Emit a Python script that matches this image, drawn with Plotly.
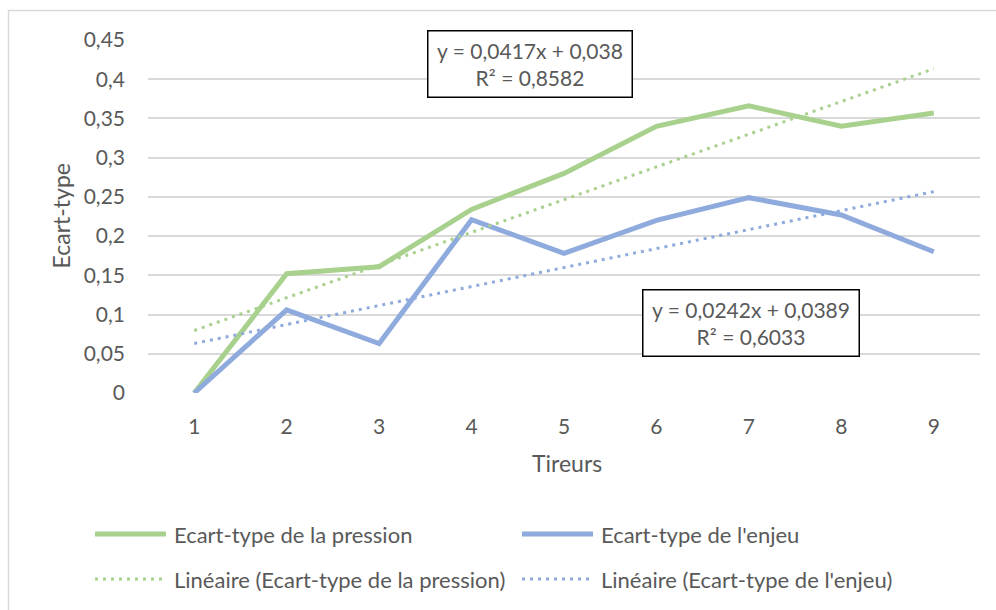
import plotly.graph_objects as go

# ---- data ----
tireurs = [1, 2, 3, 4, 5, 6, 7, 8, 9]
ecart_pression = [0.0, 0.152, 0.161, 0.234, 0.280, 0.340, 0.366, 0.340, 0.357]
ecart_enjeu = [0.0, 0.106, 0.063, 0.221, 0.178, 0.220, 0.249, 0.227, 0.180]
trend_pression = {"slope": 0.0417, "intercept": 0.038, "r2": "0,8582"}
trend_enjeu = {"slope": 0.0242, "intercept": 0.0389, "r2": "0,6033"}
y_tick_vals = [0, 0.05, 0.1, 0.15, 0.2, 0.25, 0.3, 0.35, 0.4, 0.45]
y_tick_labels = ["0", "0,05", "0,1", "0,15", "0,2", "0,25", "0,3", "0,35", "0,4", "0,45"]
series_names = ["Ecart-type de la pression", "Ecart-type de l'enjeu",
                "Linéaire (Ecart-type de la pression)", "Linéaire (Ecart-type de l'enjeu)"]

GREEN = "#A9D18E"
BLUE = "#8FAADC"
TEXT = "#595959"
GRID = "#D9D9D9"
FONT = "Lato"

W, H = 996, 610
L, R, T, B = 148, 16, 40, 217
PW, PH = W - L - R, H - T - B


def px(x):
    return (x - L) / PW


def py(y):
    return (H - B - y) / PH


def trend(c):
    return [c["slope"] * x + c["intercept"] for x in tireurs]


fig = go.Figure()
fig.add_trace(go.Scatter(x=tireurs, y=ecart_pression, mode="lines",
                         line=dict(color=GREEN, width=5), name=series_names[0], showlegend=False))
fig.add_trace(go.Scatter(x=tireurs, y=ecart_enjeu, mode="lines",
                         line=dict(color=BLUE, width=5), name=series_names[1], showlegend=False))
fig.add_trace(go.Scatter(x=tireurs, y=trend(trend_pression), mode="lines",
                         line=dict(color=GREEN, width=3, dash="3px,5px"), name=series_names[2], showlegend=False))
fig.add_trace(go.Scatter(x=tireurs, y=trend(trend_enjeu), mode="lines",
                         line=dict(color=BLUE, width=3, dash="3px,5px"), name=series_names[3], showlegend=False))


def fmt(v):
    return str(v).replace(".", ",")


shapes = []
annotations = []

# chart border
shapes.append(dict(type="rect", xref="paper", yref="paper",
                   x0=px(8.5), x1=px(1005), y0=py(10.5), y1=py(620),
                   line=dict(color=GRID, width=1.5), fillcolor="rgba(0,0,0,0)", layer="below"))

# trend equation boxes
for c, cx, cy, w in [(trend_pression, 529.5, 64.5, 203), (trend_enjeu, 750.5, 322.5, 215)]:
    annotations.append(dict(
        xref="paper", yref="paper", x=px(cx), y=py(cy), xanchor="center", yanchor="middle",
        text=f"y = {fmt(c['slope'])}x + {fmt(c['intercept'])}<br>R² = {c['r2']}",
        showarrow=False, font=dict(family=FONT, size=21, color=TEXT),
        bordercolor="#000000", borderwidth=1.5, borderpad=0, bgcolor="white",
        width=w, height=65, align="center"))

# axis titles
annotations.append(dict(xref="paper", yref="paper", x=px(60), y=py(216.5), text="Ecart-type",
                        textangle=-90, showarrow=False, xanchor="center", yanchor="middle",
                        font=dict(family=FONT, size=23, color=TEXT)))
annotations.append(dict(xref="paper", yref="paper", x=px(567), y=py(463), text="Tireurs",
                        showarrow=False, xanchor="center", yanchor="middle",
                        font=dict(family=FONT, size=23, color=TEXT)))

# legend (manual)
legend_items = [
    (series_names[0], GREEN, "solid", 5, 95, 534),
    (series_names[1], BLUE, "solid", 5, 522, 534),
    (series_names[2], GREEN, "3px,5px", 3, 95, 579),
    (series_names[3], BLUE, "3px,5px", 3, 522, 579),
]
for name, col, dash, wd, x0, yy in legend_items:
    shapes.append(dict(type="line", xref="paper", yref="paper",
                       x0=px(x0), x1=px(x0 + 71), y0=py(yy), y1=py(yy),
                       line=dict(color=col, width=wd, dash=dash)))
    annotations.append(dict(xref="paper", yref="paper", x=px(x0 + 77), y=py(yy), text=name,
                            showarrow=False, xanchor="left", yanchor="middle",
                            font=dict(family=FONT, size=22, color=TEXT)))

fig.update_layout(
    width=W, height=H,
    margin=dict(l=L, r=R, t=T, b=B),
    paper_bgcolor="white", plot_bgcolor="white",
    font=dict(family=FONT, size=21, color=TEXT),
    showlegend=False,
    shapes=shapes,
    annotations=annotations,
    xaxis=dict(range=[0.5, 9.5], tickvals=tireurs, ticktext=[str(t) for t in tireurs],
               showgrid=False, zeroline=False, showline=False, ticks="",
               ticklabelstandoff=19, tickfont=dict(family=FONT, size=21, color=TEXT)),
    yaxis=dict(range=[0, 0.45], tickvals=y_tick_vals, ticktext=y_tick_labels,
               showgrid=True, gridcolor=GRID, gridwidth=1.5, zeroline=False, showline=False,
               ticks="", ticklabelstandoff=22, tickfont=dict(family=FONT, size=21, color=TEXT)),
)

fig.write_html("out.html")
